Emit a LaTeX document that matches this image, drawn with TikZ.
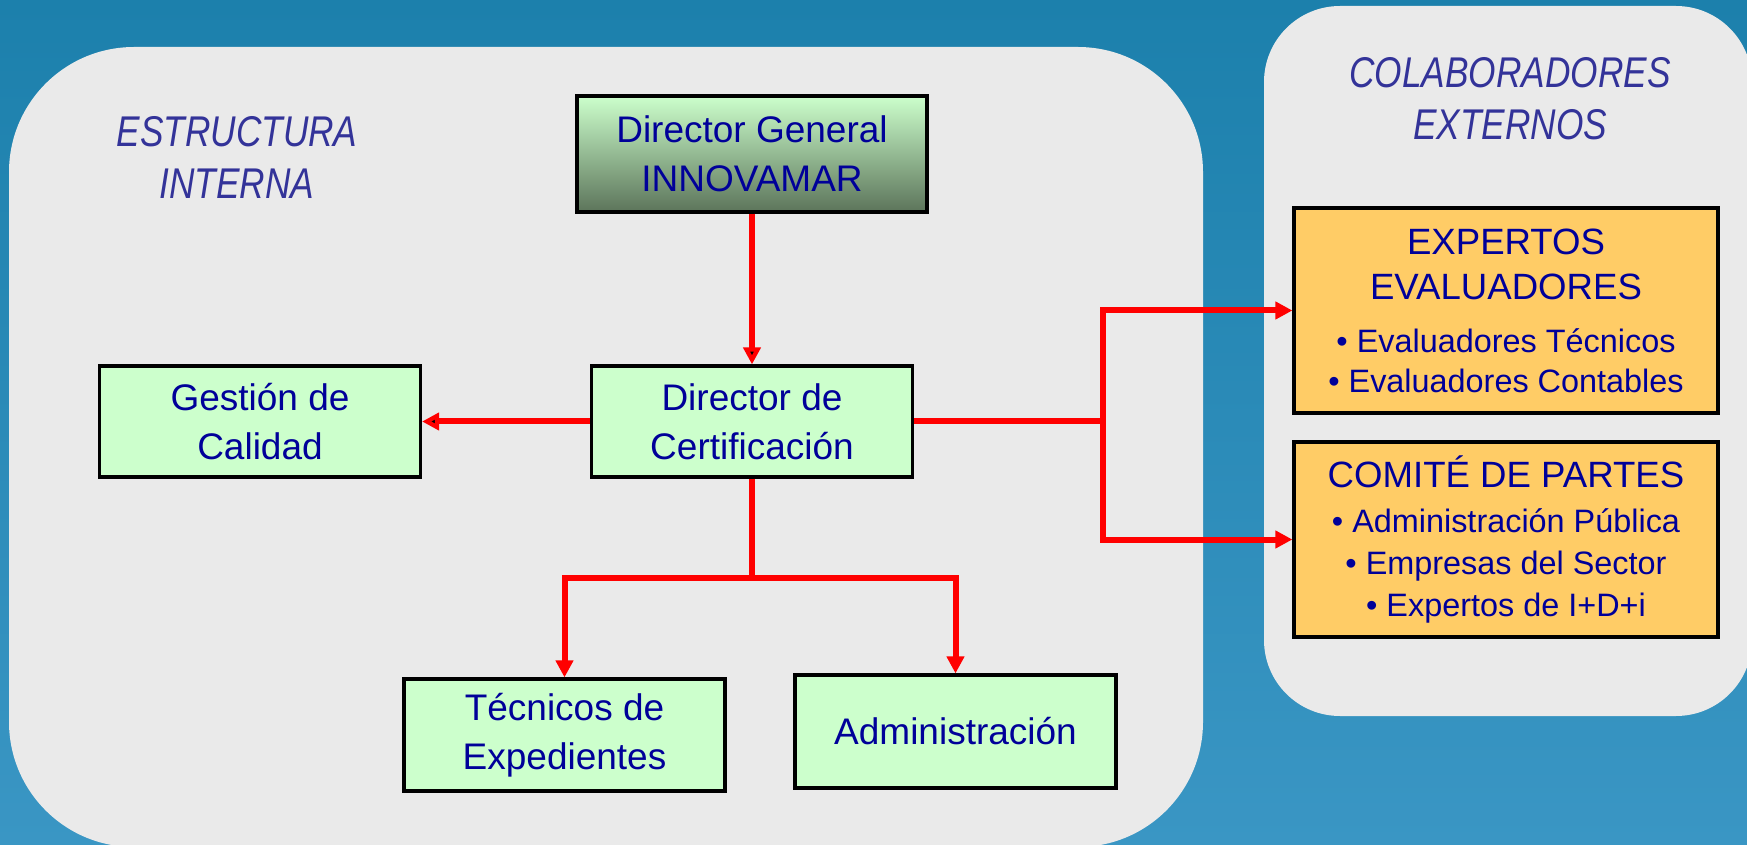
\documentclass[tikz,border=0pt]{standalone}
\usepackage{fontspec}
\setmainfont{Liberation Sans}
\newfontfamily\narrowsans[FakeStretch=0.82]{Liberation Sans}
\usetikzlibrary{arrows.meta,positioning}
\definecolor{sea}{RGB}{28,128,172}
\definecolor{sealight}{RGB}{58,150,196}
\definecolor{panel}{RGB}{234,234,234}
\definecolor{boxgreen}{RGB}{204,255,204}
\definecolor{boxdark}{RGB}{92,116,90}
\definecolor{boxorange}{RGB}{255,204,102}
\definecolor{textblue}{RGB}{0,0,153}
\definecolor{headblue}{RGB}{51,51,153}
\newcommand{\bulletline}[1]{{\fontsize{16.2}{20}\selectfont \textbullet\ #1}}
\tikzset{>={Triangle[length=8.5pt,width=8.5pt]},
  box/.style={draw=black,line width=1.6pt,fill=boxgreen,text=textblue,align=center,
    minimum width=160.5pt,minimum height=55.5pt,inner sep=0pt,
    font=\fontsize{18.5}{24.5}\selectfont},
  extbox/.style={box,fill=boxorange,minimum width=212pt,
    font=\fontsize{18.3}{20}\selectfont},
  head/.style={text=headblue,align=center,inner sep=0pt,
    font=\narrowsans\itshape\fontsize{21.5}{26}\selectfont},
  link/.style={draw=red,line width=3pt}}

\begin{document}
\begin{tikzpicture}[x=0.5pt,y=-0.5pt]
\useasboundingbox (0,0) rectangle (1747,845);
\shade[top color=sea,bottom color=sealight] (0,0) rectangle (1747,845);
% panels
\fill[panel,rounded corners=62.5pt] (9,47) rectangle (1203,847);
\fill[panel,rounded corners=38pt] (1264,6) rectangle (1752,716);
\node[head] (intern) at (237,157) {ESTRUCTURA\\INTERNA};
\node[head] (extern) at (1510,99) {COLABORADORES\\EXTERNOS};
% internal structure
\node[box,minimum width=175pt,minimum height=58pt,top color=boxgreen,bottom color=boxdark]
  (dg) at (752,154) {Director General\\INNOVAMAR};
\node[box] (dc) [below=75.4pt of dg] {Director de\\Certificación};
\node[box] (gc) [left=83.9pt of dc] {Gestión de\\Calidad};
\node[box,minimum height=56pt] (te) at (564.5,735) {Técnicos de\\Expedientes};
\node[box,minimum height=56.5pt] (adm) at (955.5,731.5) {Administración};
% external collaborators
\node[extbox,minimum height=102.5pt] (ee) at (1506,310.5)
  {EXPERTOS\\[2.5pt]EVALUADORES\\[6.5pt]\bulletline{Evaluadores Técnicos}\\
   \bulletline{Evaluadores Contables}};
\node[extbox,minimum height=97.5pt] (cp) [below=12.9pt of ee]
  {COMITÉ DE PARTES\\[2.5pt]\bulletline{Administración Pública}\\[1pt]
   \bulletline{Empresas del Sector}\\[1pt]\bulletline{Expertos de I+D+i}};
% connectors
\coordinate (splitrow) at (0,578);
\coordinate (hubcol) at (1103,0);
\coordinate (split) at (dc.south |- splitrow);
\coordinate (hub) at (dc.east -| hubcol);
\path[link,->]
(dg) edge (dc)
(dc) edge (gc)
;
\draw[link] (dc.south) -- (split);
\draw[link,->] (split) -| (te.north);
\draw[link,->] (split) -| (adm.north);
\draw[link] (dc.east) -- (hub);
\draw[link,->] (hub) |- (ee.west);
\draw[link,->] (hub) |- (cp.west);
\end{tikzpicture}
\end{document}
